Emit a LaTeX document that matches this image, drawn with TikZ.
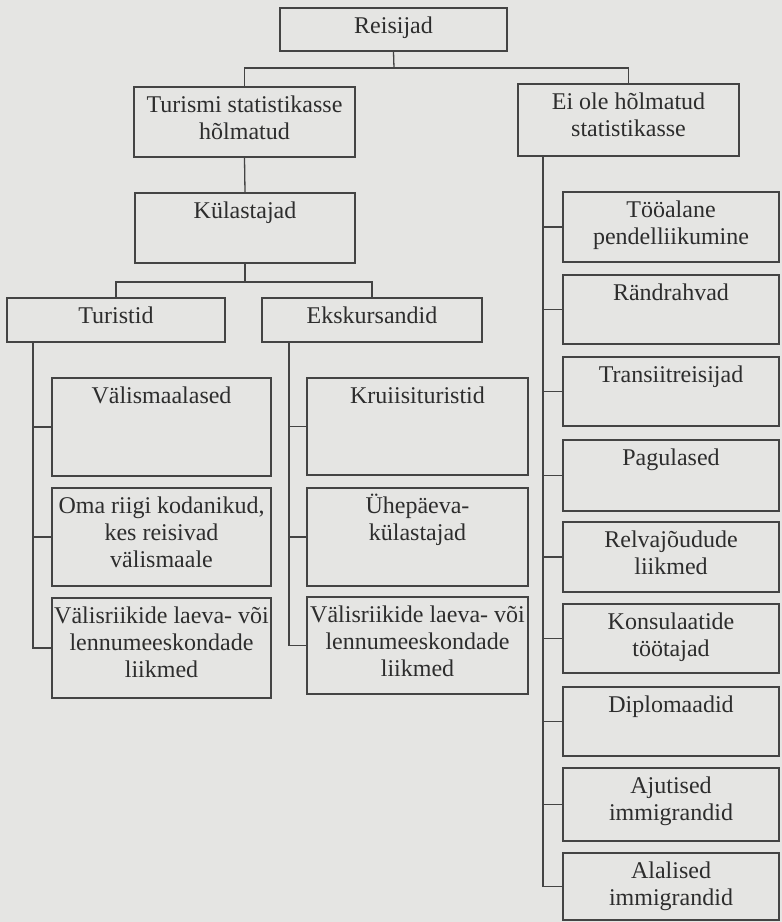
\documentclass[tikz,border=0pt]{standalone}
\usepackage{fontspec}
\setmainfont{Liberation Serif}
\definecolor{paper}{RGB}{229,229,227}
\definecolor{ink}{RGB}{68,68,68}
\definecolor{txtc}{RGB}{45,45,45}
\tikzset{
  box/.style={draw=ink, line width=1.7pt, rectangle, inner sep=0pt},
  txt/.style={anchor=north, align=center, inner sep=0pt, text=txtc,
    font=\fontsize{24}{27}\selectfont},
  link/.style={draw=ink, line width=1.3pt}
}
\newcommand\bx[6]{%
  \node[box, minimum width={#4-#2}, minimum height={#5-#3}] (#1) at ({(#2+#4)/2},{(#3+#5)/2}) {};
  \node[txt] (#1t) at ([yshift=-5.5pt]#1.north) {\rule{0pt}{20.5pt}#6};
}
\begin{document}
\begin{tikzpicture}[x=1pt,y=-1pt]
\fill[paper] (0,0) rectangle (782,922);
\useasboundingbox (0,0) rectangle (782,922);

\bx{reis}{280}{8}{507}{51}{Reisijad}
\bx{tur}{134}{87}{355}{157}{Turismi statistikasse\\hõlmatud}
\bx{ei}{518}{84}{739}{156}{Ei ole hõlmatud\\statistikasse}
\bx{kul}{135}{193}{355}{263}{Külastajad}
\bx{turist}{7}{298}{225}{342}{Turistid}
\bx{eks}{262}{298}{482}{342}{Ekskursandid}
\bx{val}{52}{378}{271}{476}{Välismaalased}
\bx{oma}{52}{488}{271}{586}{Oma riigi kodanikud,\\kes reisivad\\välismaale}
\bx{vrl}{52}{598}{271}{698}{Välisriikide laeva- või\\lennumeeskondade\\liikmed}
\bx{kru}{307}{378}{528}{475}{Kruiisituristid}
\bx{uhe}{307}{488}{528}{586}{Ühepäeva-\\külastajad}
\bx{vrb}{307}{597}{528}{694}{Välisriikide laeva- või\\lennumeeskondade\\liikmed}
\bx{too}{563}{192}{779}{262}{Tööalane\\pendelliikumine}
\bx{ran}{563}{275}{779}{344}{Rändrahvad}
\bx{tra}{563}{357}{779}{426}{Transiitreisijad}
\bx{pag}{563}{440}{779}{511}{Pagulased}
\bx{rel}{563}{522}{779}{592}{Relvajõudude\\liikmed}
\bx{kon}{563}{604}{779}{673}{Konsulaatide\\töötajad}
\bx{dip}{563}{687}{779}{756}{Diplomaadid}
\bx{aju}{563}{768}{779}{841}{Ajutised\\immigrandid}
\bx{ala}{563}{853}{779}{920}{Alalised\\immigrandid}

% junctions and column lines
\coordinate (j1) at (394,68);
\coordinate (j2) at (245,282);
\coordinate (tcol) at (33,0);
\coordinate (ecol) at (289,0);
\coordinate (rcol) at (543,0);

\draw[link] (reis.south) -- (j1);
\draw[link] (tur.north) |- (j1) -| (ei.north);
\draw[link] (tur.south) -- (kul.north);
\draw[link] (kul.south) -- (j2);
\draw[link] (turist.north) |- (j2) -| (eks.north);

\draw[link] (tcol |- turist.south) |- (vrl.west);
\draw[link] (tcol |- val.west) -- (val.west);
\draw[link] (tcol |- oma.west) -- (oma.west);

\draw[link] (ecol |- eks.south) |- (vrb.west);
\draw[link] (ecol |- kru.west) -- (kru.west);
\draw[link] (ecol |- uhe.west) -- (uhe.west);

\draw[link] (rcol |- ei.south) |- (ala.west);
\foreach \n in {too,ran,tra,pag,rel,kon,dip,aju}
  \draw[link] (rcol |- \n.west) -- (\n.west);
\end{tikzpicture}
\end{document}
